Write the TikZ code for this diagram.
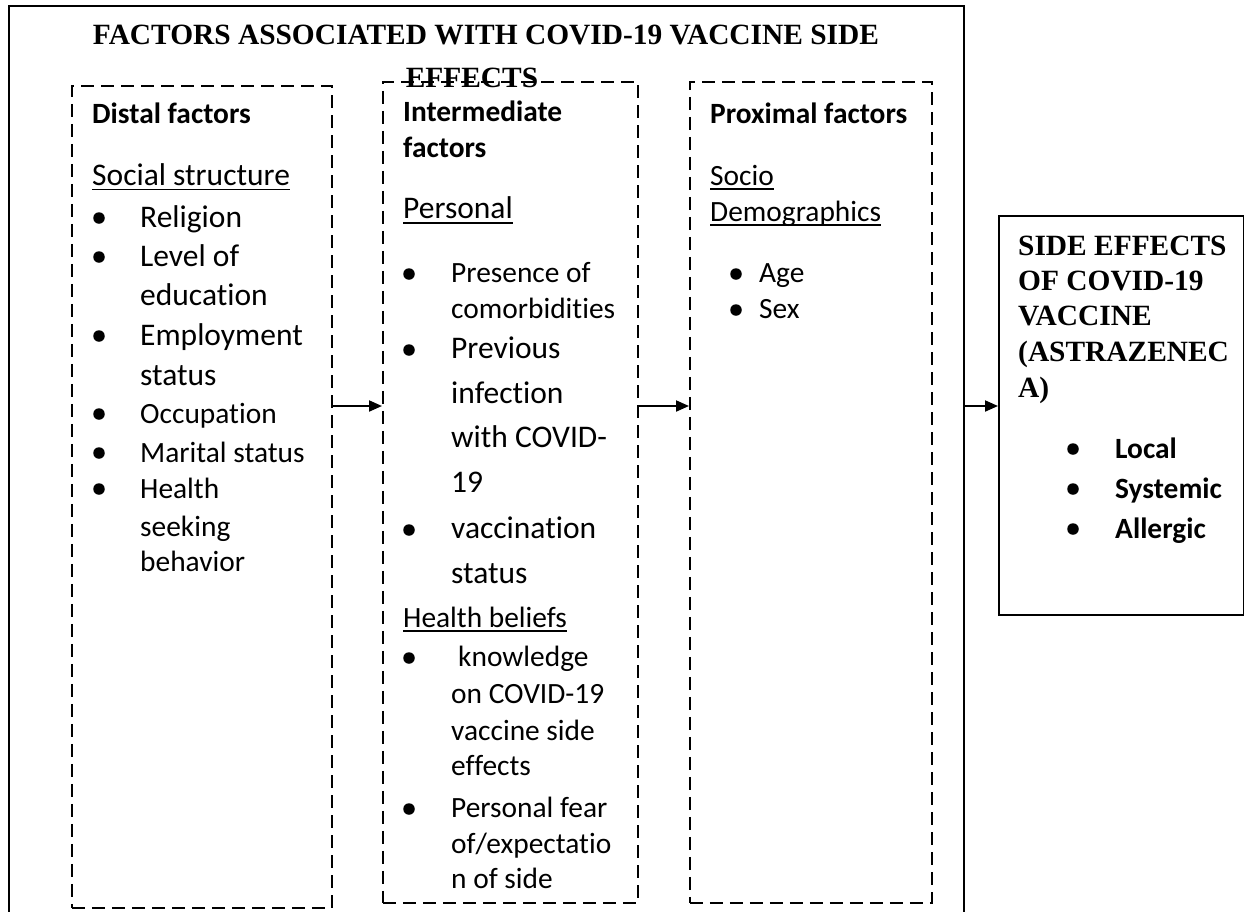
\documentclass[tikz,border=0pt]{standalone}
\usepackage{fontspec}
\setmainfont{Carlito}[Ligatures={NoCommon}]
\newfontfamily\tnr{Liberation Serif}
\usetikzlibrary{arrows.meta}
\newcommand\fs[1]{\fontsize{#1pt}{#1pt}\selectfont}
\tikzset{
  frame/.style={line width=2pt},
  dbox/.style={draw, line width=1.8pt, dash pattern=on 13pt off 7pt, rectangle, inner sep=0pt, anchor=north west},
  sbox/.style={draw, line width=2pt, rectangle, inner sep=0pt, anchor=north west},
  txt/.style={inner sep=0pt, anchor=base west},
  hd/.style={txt, font=\bfseries\fs{29.4}},
  sm/.style={txt, font=\fs{29.4}},
  bg/.style={txt, font=\fs{31.5}},
  ttl/.style={inner sep=0pt, anchor=base, font=\tnr\bfseries\fs{29.4}},
  tl/.style={txt, font=\tnr\bfseries\fs{29.4}},
  bl/.style={txt, font=\bfseries\fs{29.4}},
  arr/.style={line width=2pt, -{Triangle[length=13pt,width=11pt]}},
  bul/.style={circle, fill, inner sep=0pt, minimum size=11.5pt},
  ulk/.style={line width=1.6pt},
}
\begin{document}
\begin{tikzpicture}[x=1pt,y=-1pt]
\useasboundingbox (0,0) rectangle (1244,911);
\clip (0,0) rectangle (1244,911);
% outer frame (open at the bottom)
\draw[frame] (9,930) -- (9,6) -- (964,6) -- (964,930);
% title
\node[ttl] (t1) at (486,44) {FACTORS ASSOCIATED WITH COVID-19 VACCINE SIDE};
\node[ttl] (t2) at (472,87) {EFFECTS};
% boxes
\node[dbox, minimum width=260pt, minimum height=822pt] (dist) at (71,85) {};
\node[dbox, minimum width=255pt, minimum height=821pt] (inter) at (382,81) {};
\node[dbox, minimum width=242pt, minimum height=821pt] (prox) at (689,81) {};
\node[sbox, minimum width=245pt, minimum height=399pt] (side) at (998,215) {};
% arrows
\coordinate (ay) at (0,406);
\coordinate (fr) at (964,406);
\draw[arr] (dist.east |- ay) -- (inter.west |- ay);
\draw[arr] (inter.east |- ay) -- (prox.west |- ay);
\draw[arr] (fr) -- (side.west |- fr);

% distal column
\node[hd] (dh) at (92,123) {Distal factors};
\node[bg] (du) at (92,185) {Social structure};
\draw[ulk] ([yshift=-4.5pt]du.base west) -- ([yshift=-4.5pt]du.base east);
\foreach \t/\y [count=\i] in {Religion/227, Level of/266, education/305, Employment/345, status/385}
  \node[bg] (dbg\i) at (140,\y) {\t};
\foreach \t/\y [count=\i] in {Occupation/423, Marital status/462, Health/498, seeking/536, behavior/571}
  \node[sm] (dsm\i) at (140,\y) {\t};
\foreach \y [count=\i] in {218, 257, 336, 414, 453, 489}
  \node[bul] (db\i) at (99,\y) {};

% intermediate column
\node[hd] (ih1) at (403,121) {Intermediate};
\node[hd] (ih2) at (403,157) {factors};
\node[bg] (iu1) at (403,218) {Personal};
\draw[ulk] ([yshift=-5pt]iu1.base west) -- ([yshift=-5pt]iu1.base east);
\foreach \t/\y [count=\i] in {Presence of/282, comorbidities/318}
  \node[sm] (ia\i) at (451,\y) {\t};
\foreach \t/\y [count=\i] in {Previous/358, infection/403, with COVID-/447, 19/492, vaccination/538, status/583}
  \node[bg] (ib\i) at (451,\y) {\t};
\node[sm] (iu2) at (403,627) {Health beliefs};
\draw[ulk] ([yshift=-4pt]iu2.base west) -- ([yshift=-4pt]iu2.base east);
\node[sm] (ic1) at (458,666) {knowledge};
\foreach \t/\y [count=\i] in {on COVID-19/703, vaccine side/740, effects/775, Personal fear/817, {of/expectatio}/853, n of side/888}
  \node[sm] (id\i) at (451,\y) {\t};
\foreach \y [count=\i] in {274, 350, 530, 658, 809}
  \node[bul] (ibu\i) at (409,\y) {};

% proximal column
\node[hd] (ph) at (710,123) {Proximal factors};
\node[sm] (pu1) at (710,185) {Socio};
\draw[ulk] ([yshift=-4pt]pu1.base west) -- ([yshift=-4pt]pu1.base east);
\node[sm] (pu2) at (710,221) {Demographics};
\draw[ulk] ([yshift=-4pt]pu2.base west) -- ([yshift=-4pt]pu2.base east);
\node[sm] (pa1) at (759,282) {Age};
\node[sm] (pa2) at (759,318) {Sex};
\node[bul] (pb1) at (736,274) {};
\node[bul] (pb2) at (736,310) {};

% outcome box
\node[tl] (s1) at (1018,255) {SIDE EFFECTS};
\node[tl] (s2) at (1018,290) {OF COVID-19};
\node[tl] (s3) at (1018,325) {VACCINE};
\node[tl] (s4) at (1018,361) {(ASTRAZENEC};
\node[tl] (s5) at (1018,397) {A)};
\foreach \t/\y [count=\i] in {Local/458, Systemic/498, Allergic/538}
  \node[bl] (so\i) at (1115,\y) {\t};
\foreach \y [count=\i] in {449, 489, 529}
  \node[bul] (sb\i) at (1073,\y) {};
\end{tikzpicture}
\end{document}
